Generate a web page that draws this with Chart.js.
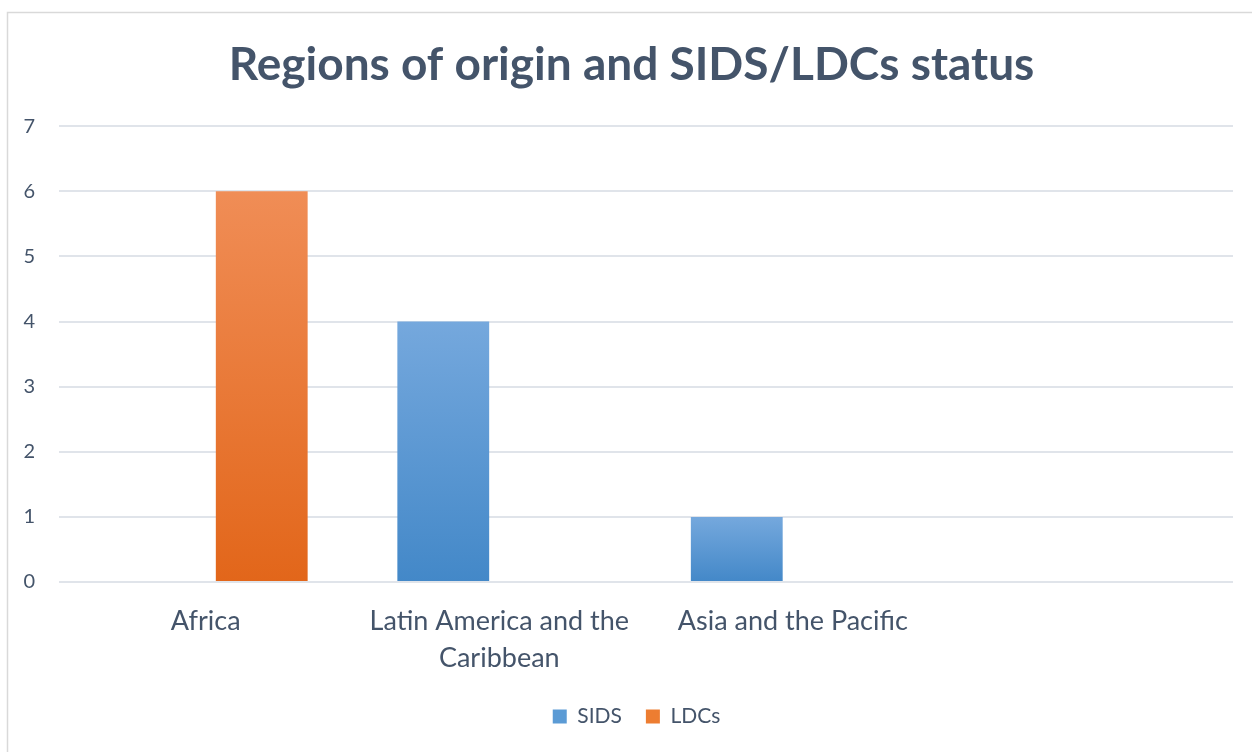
<!DOCTYPE html>
<html>
<head>
<meta charset="utf-8">
<script src="https://cdn.jsdelivr.net/npm/chart.js@4/dist/chart.umd.min.js"></script>
<style>
  html, body { margin: 0; padding: 0; background: #fff; }
  #wrap { width: 1252px; height: 752px; position: relative; }
</style>
</head>
<body>
<div id="wrap"><canvas id="grafico"></canvas></div>
<script>
const regions = ['Africa', ['Latin America and the', 'Caribbean'], 'Asia and the Pacific', ''];
const sids = [null, 4, 1, null];
const ldcs = [6, null, null, null];
const yTicks = [0, 1, 2, 3, 4, 5, 6, 7];

const textColor = '#44546A';
Chart.defaults.font.family = "Lato, 'Noto Sans', sans-serif";
Chart.defaults.color = textColor;

// gradiente per ogni barra (chiaro in alto, scuro in basso)
function barGradient(top, bottom) {
    return function (ctx) {
        const chart = ctx.chart;
        if (!chart.chartArea || ctx.raw == null) return bottom;
        const y = chart.scales.y;
        const y0 = y.getPixelForValue(ctx.raw);
        const y1 = y.getPixelForValue(0);
        const g = chart.ctx.createLinearGradient(0, y0, 0, y1);
        g.addColorStop(0, top);
        g.addColorStop(1, bottom);
        return g;
    };
}

const frame = {
    id: 'frame',
    afterLayout(chart) {
        // titolo e legenda un po' spostati a destra come nell'originale
        chart.titleBlock.left = 30;
        chart.legend.left = 40;
    },
    beforeDraw(chart) {
        const c = chart.ctx;
        c.save();
        c.fillStyle = '#fff';
        c.fillRect(0, 0, chart.width, chart.height);
        c.strokeStyle = '#D9D9D9';
        c.lineWidth = 1.5;
        c.beginPath();
        c.moveTo(7.5, chart.height);
        c.lineTo(7.5, 12.5);
        c.lineTo(chart.width, 12.5);
        c.stroke();
        c.restore();
    }
};

new Chart(document.getElementById('grafico'), {
    type: 'bar',
    data: {
        labels: regions,
        datasets: [
            {
                label: 'SIDS',
                data: sids,
                backgroundColor: barGradient('#75A8DD', '#4388C8'),
                legendColor: '#5B9BD5'
            },
            {
                label: 'LDCs',
                data: ldcs,
                backgroundColor: barGradient('#F08D56', '#E2661A'),
                legendColor: '#ED7D31'
            }
        ]
    },
    options: {
        responsive: true,
        maintainAspectRatio: false,
        animation: false,
        datasets: { bar: { barPercentage: 0.82, categoryPercentage: 0.763 } },
        layout: { padding: { left: 0, right: 19, top: 0, bottom: 15 } },
        plugins: {
            title: {
                display: true,
                text: 'Regions of origin and SIDS/LDCs status',
                color: textColor,
                font: { size: 46, weight: 'bold' },
                padding: { top: 38, bottom: 33 }
            },
            legend: {
                position: 'bottom',
                labels: {
                    font: { size: 21 },
                    boxWidth: 14,
                    boxHeight: 14,
                    padding: 24,
                    generateLabels(chart) {
                        return chart.data.datasets.map((ds, i) => ({
                            text: ds.label,
                            fillStyle: ds.legendColor,
                            strokeStyle: ds.legendColor,
                            lineWidth: 0,
                            fontColor: textColor,
                            datasetIndex: i,
                            hidden: false
                        }));
                    }
                }
            },
            tooltip: { enabled: false }
        },
        scales: {
            x: {
                grid: { display: false, drawTicks: false },
                border: { display: false },
                ticks: { font: { size: 27, lineHeight: 1.37 }, padding: 21, maxRotation: 0, autoSkip: false },
                afterFit(scale) { scale.height = 100; }
            },
            y: {
                min: 0,
                max: 7,
                afterBuildTicks(scale) { scale.ticks = yTicks.map(v => ({ value: v })); },
                grid: { color: '#E0E4EA', lineWidth: 2, drawTicks: false },
                border: { display: false },
                ticks: { font: { size: 20 }, padding: 24 },
                afterFit(scale) { scale.width = 59; }
            }
        }
    },
    plugins: [frame]
});
</script>
</body>
</html>
